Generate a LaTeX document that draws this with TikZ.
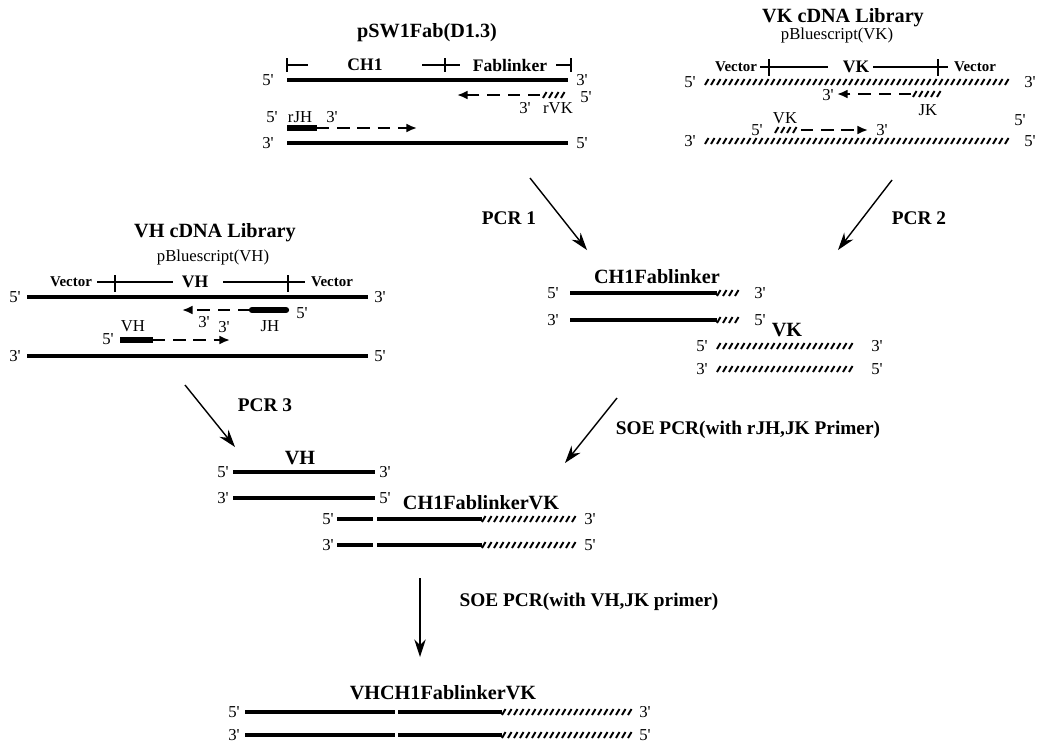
\documentclass[tikz,border=0pt]{standalone}
\usepackage{fontspec}
\setmainfont{Liberation Serif}
\usetikzlibrary{arrows.meta}

\newcommand{\fivep}{5\textquotesingle}
\newcommand{\threep}{3\textquotesingle}
% slanted strokes for the VK (hatched) part of a strand
\newcommand{\hatchseg}[3]{%
  \pgfmathtruncatemacro{\hatchn}{((#2)-(#1)-3)/6}%
  \foreach \hk in {0,...,\hatchn}{%
    \draw[hatchstroke] ({#1+6*\hk},{#3+3}) -- ++(3.5,-6);}%
}

\tikzset{
  strand/.style={line width=2.8pt},
  thinstrand/.style={line width=2.1pt},
  primerbar/.style={line width=3.6pt},
  hatchstroke/.style={line width=1.1pt},
  primer/.style={line width=1.1pt, dash pattern=on 7pt off 4.5pt, -{Latex[length=6pt,width=5pt]}},
  pcrarrow/.style={line width=0.8pt, -{Stealth[length=10pt,width=6.5pt]}},
  bar/.style={line width=0.6pt},
  title/.style={font=\bfseries\fontsize{11.5}{13}\selectfont, inner sep=0pt},
  lbl/.style={font=\bfseries\fontsize{10}{12}\selectfont, inner sep=0pt},
  veclbl/.style={font=\bfseries\fontsize{8.5}{10}\selectfont, inner sep=0pt},
  endlbl/.style={font=\fontsize{9.5}{11}\selectfont, inner sep=0pt},
  pcrlbl/.style={font=\bfseries\fontsize{11}{13}\selectfont, inner sep=0pt}
}

\begin{document}
\begin{tikzpicture}[x=0.02cm,y=-0.02cm]
\useasboundingbox (0,0) rectangle (1040,745);

% pSW1Fab(D1.3)
\node[title] (swT) at (427,33) {pSW1Fab(D1.3)};
\draw[bar] (287,58) -- (287,72) (287,65) -- (308,65);
\node[lbl] (swCH) at (365,65) {CH1};
\draw[bar] (422,65) -- (460,65) (445,58) -- (445,72);
\node[lbl] (swFL) at (510,65) {Fablinker};
\draw[bar] (556,65) -- (571,65) (571,58) -- (571,72);
\draw[strand] (287,80) -- (568,80);
\node[endlbl] (sw5a) at (268,80) {\fivep};
\node[endlbl] (sw3a) at (582,80) {\threep};
\hatchseg{543}{567}{95}
\coordinate (rvkS) at (540,95);
\coordinate (rvkE) at (457,95);
\draw[primer] (rvkS) -- (rvkE);
\node[endlbl] (sw5r) at (586,97) {\fivep};
\node[endlbl] (sw3r) at (525,108) {\threep};
\node[endlbl] (rvk) at (558,108) {rVK};
\node[endlbl] (sw5j) at (272,117) {\fivep};
\node[endlbl] (rjh) at (300,117) {rJH};
\node[endlbl] (sw3j) at (332,117) {\threep};
\draw[primerbar] (287,128) -- (317,128);
\coordinate (rjhS) at (317,128);
\coordinate (rjhE) at (417,128);
\draw[primer] (rjhS) -- (rjhE);
\draw[strand] (287,143) -- (568,143);
\node[endlbl] (sw3b) at (268,143) {\threep};
\node[endlbl] (sw5b) at (582,143) {\fivep};

% VK cDNA library
\node[title] (vkT) at (843,18) {VK cDNA Library};
\node[endlbl] (vkP) at (837,35) {pBluescript(VK)};
\node[veclbl] (vkV1) at (736,67) {Vector};
\draw[bar] (760,67) -- (828,67) (769,59) -- (769,76);
\node[lbl] (vkM) at (856,67) {VK};
\draw[bar] (873,67) -- (948,67) (938,59) -- (938,76);
\node[veclbl] (vkV2) at (975,67) {Vector};
\hatchseg{705}{1008}{82}
\node[endlbl] (vk5a) at (690,82) {\fivep};
\node[endlbl] (vk3a) at (1030,82) {\threep};
\hatchseg{913}{940}{94}
\coordinate (jkS) at (911,94);
\coordinate (jkE) at (837,94);
\draw[primer] (jkS) -- (jkE);
\node[endlbl] (vk3j) at (828,95) {\threep};
\node[endlbl] (jk) at (928,110) {JK};
\node[endlbl] (vkp) at (785,118) {VK};
\node[endlbl] (vk5p) at (757,130) {\fivep};
\hatchseg{775}{800}{130}
\coordinate (vkpS) at (801,130);
\coordinate (vkpE) at (868,130);
\draw[primer] (vkpS) -- (vkpE);
\node[endlbl] (vk3p) at (882,130) {\threep};
\node[endlbl] (vk5x) at (1020,120) {\fivep};
\hatchseg{705}{1008}{141}
\node[endlbl] (vk3b) at (690,141) {\threep};
\node[endlbl] (vk5b) at (1030,141) {\fivep};

% VH cDNA library
\node[title] (vhT) at (215,233) {VH cDNA Library};
\node[endlbl] (vhP) at (213,257) {pBluescript(VH)};
\node[veclbl] (vhV1) at (71,282) {Vector};
\draw[bar] (97,282) -- (173,282) (115,275) -- (115,292);
\node[lbl] (vhM) at (195,282) {VH};
\draw[bar] (223,282) -- (305,282) (288,275) -- (288,292);
\node[veclbl] (vhV2) at (332,282) {Vector};
\draw[strand] (27,297) -- (368,297);
\node[endlbl] (vh5a) at (15,297) {\fivep};
\node[endlbl] (vh3a) at (380,297) {\threep};
\draw[primerbar, line cap=round] (252,310) -- (286,310);
\coordinate (jhS) at (250,310);
\coordinate (jhE) at (182,310);
\draw[primer] (jhS) -- (jhE);
\node[endlbl] (vh5j) at (302,313) {\fivep};
\node[endlbl] (vh3j) at (204,322) {\threep};
\node[endlbl] (jh) at (270,326) {JH};
\node[endlbl] (vhp) at (133,326) {VH};
\node[endlbl] (vh3p) at (224,327) {\threep};
\node[endlbl] (vh5p) at (108,339) {\fivep};
\draw[primerbar] (120,340) -- (153,340);
\coordinate (vhpS) at (153,340);
\coordinate (vhpE) at (230,340);
\draw[primer] (vhpS) -- (vhpE);
\draw[strand] (27,356) -- (368,356);
\node[endlbl] (vh3b) at (15,356) {\threep};
\node[endlbl] (vh5b) at (380,356) {\fivep};

% PCR 1 / PCR 2 products
\node[title] (chT) at (657,277) {CH1Fablinker};
\draw[strand] (570,293) -- (717,293);
\hatchseg{717}{742}{293}
\node[endlbl] (ch5a) at (553,293) {\fivep};
\node[endlbl] (ch3a) at (760,293) {\threep};
\draw[strand] (570,320) -- (717,320);
\hatchseg{717}{742}{320}
\node[endlbl] (ch3b) at (553,320) {\threep};
\node[endlbl] (ch5b) at (760,320) {\fivep};
\node[title] (kT) at (787,330) {VK};
\hatchseg{717}{857}{346}
\node[endlbl] (k5a) at (702,346) {\fivep};
\node[endlbl] (k3a) at (877,346) {\threep};
\hatchseg{717}{857}{369}
\node[endlbl] (k3b) at (702,369) {\threep};
\node[endlbl] (k5b) at (877,369) {\fivep};

% PCR 3 product and SOE PCR product
\node[title] (hT) at (300,458) {VH};
\draw[strand] (233,472) -- (375,472);
\node[endlbl] (h5a) at (223,472) {\fivep};
\node[endlbl] (h3a) at (385,472) {\threep};
\draw[strand] (233,498) -- (375,498);
\node[endlbl] (h3b) at (223,498) {\threep};
\node[endlbl] (h5b) at (385,498) {\fivep};
\node[title] (sT) at (481,503) {CH1FablinkerVK};
\draw[strand] (337,519) -- (373,519);
\draw[thinstrand] (377,519) -- (482,519);
\hatchseg{482}{580}{519}
\node[endlbl] (s5a) at (328,519) {\fivep};
\node[endlbl] (s3a) at (590,519) {\threep};
\draw[strand] (337,545) -- (373,545);
\draw[thinstrand] (377,545) -- (482,545);
\hatchseg{482}{580}{545}
\node[endlbl] (s3b) at (328,545) {\threep};
\node[endlbl] (s5b) at (590,545) {\fivep};

% final product
\node[title] (fT) at (443,693) {VHCH1FablinkerVK};
\draw[strand] (245,712) -- (395,712);
\draw[thinstrand] (398,712) -- (502,712);
\hatchseg{502}{633}{712}
\node[endlbl] (f5a) at (234,712) {\fivep};
\node[endlbl] (f3a) at (645,712) {\threep};
\draw[strand] (245,735) -- (395,735);
\draw[thinstrand] (398,735) -- (502,735);
\hatchseg{502}{633}{735}
\node[endlbl] (f3b) at (234,735) {\threep};
\node[endlbl] (f5b) at (645,735) {\fivep};

% PCR steps
\coordinate (p1s) at (530,178);
\coordinate (p1e) at (587,250);
\draw[pcrarrow] (p1s) -- (p1e);
\node[pcrlbl] (p1) at (509,218) {PCR 1};
\coordinate (p2s) at (892,180);
\coordinate (p2e) at (838,250);
\draw[pcrarrow] (p2s) -- (p2e);
\node[pcrlbl] (p2) at (919,218) {PCR 2};
\coordinate (p3s) at (185,385);
\coordinate (p3e) at (235,447);
\draw[pcrarrow] (p3s) -- (p3e);
\node[pcrlbl] (p3) at (265,405) {PCR 3};
\coordinate (p4s) at (617,398);
\coordinate (p4e) at (565,463);
\draw[pcrarrow] (p4s) -- (p4e);
\node[pcrlbl] (p4) at (748,430) {SOE PCR(with rJH,JK Primer)};
\coordinate (p5s) at (420,578);
\coordinate (p5e) at (420,657);
\draw[pcrarrow] (p5s) -- (p5e);
\node[pcrlbl] (p5) at (589,602) {SOE PCR(with VH,JK primer)};
\end{tikzpicture}
\end{document}
